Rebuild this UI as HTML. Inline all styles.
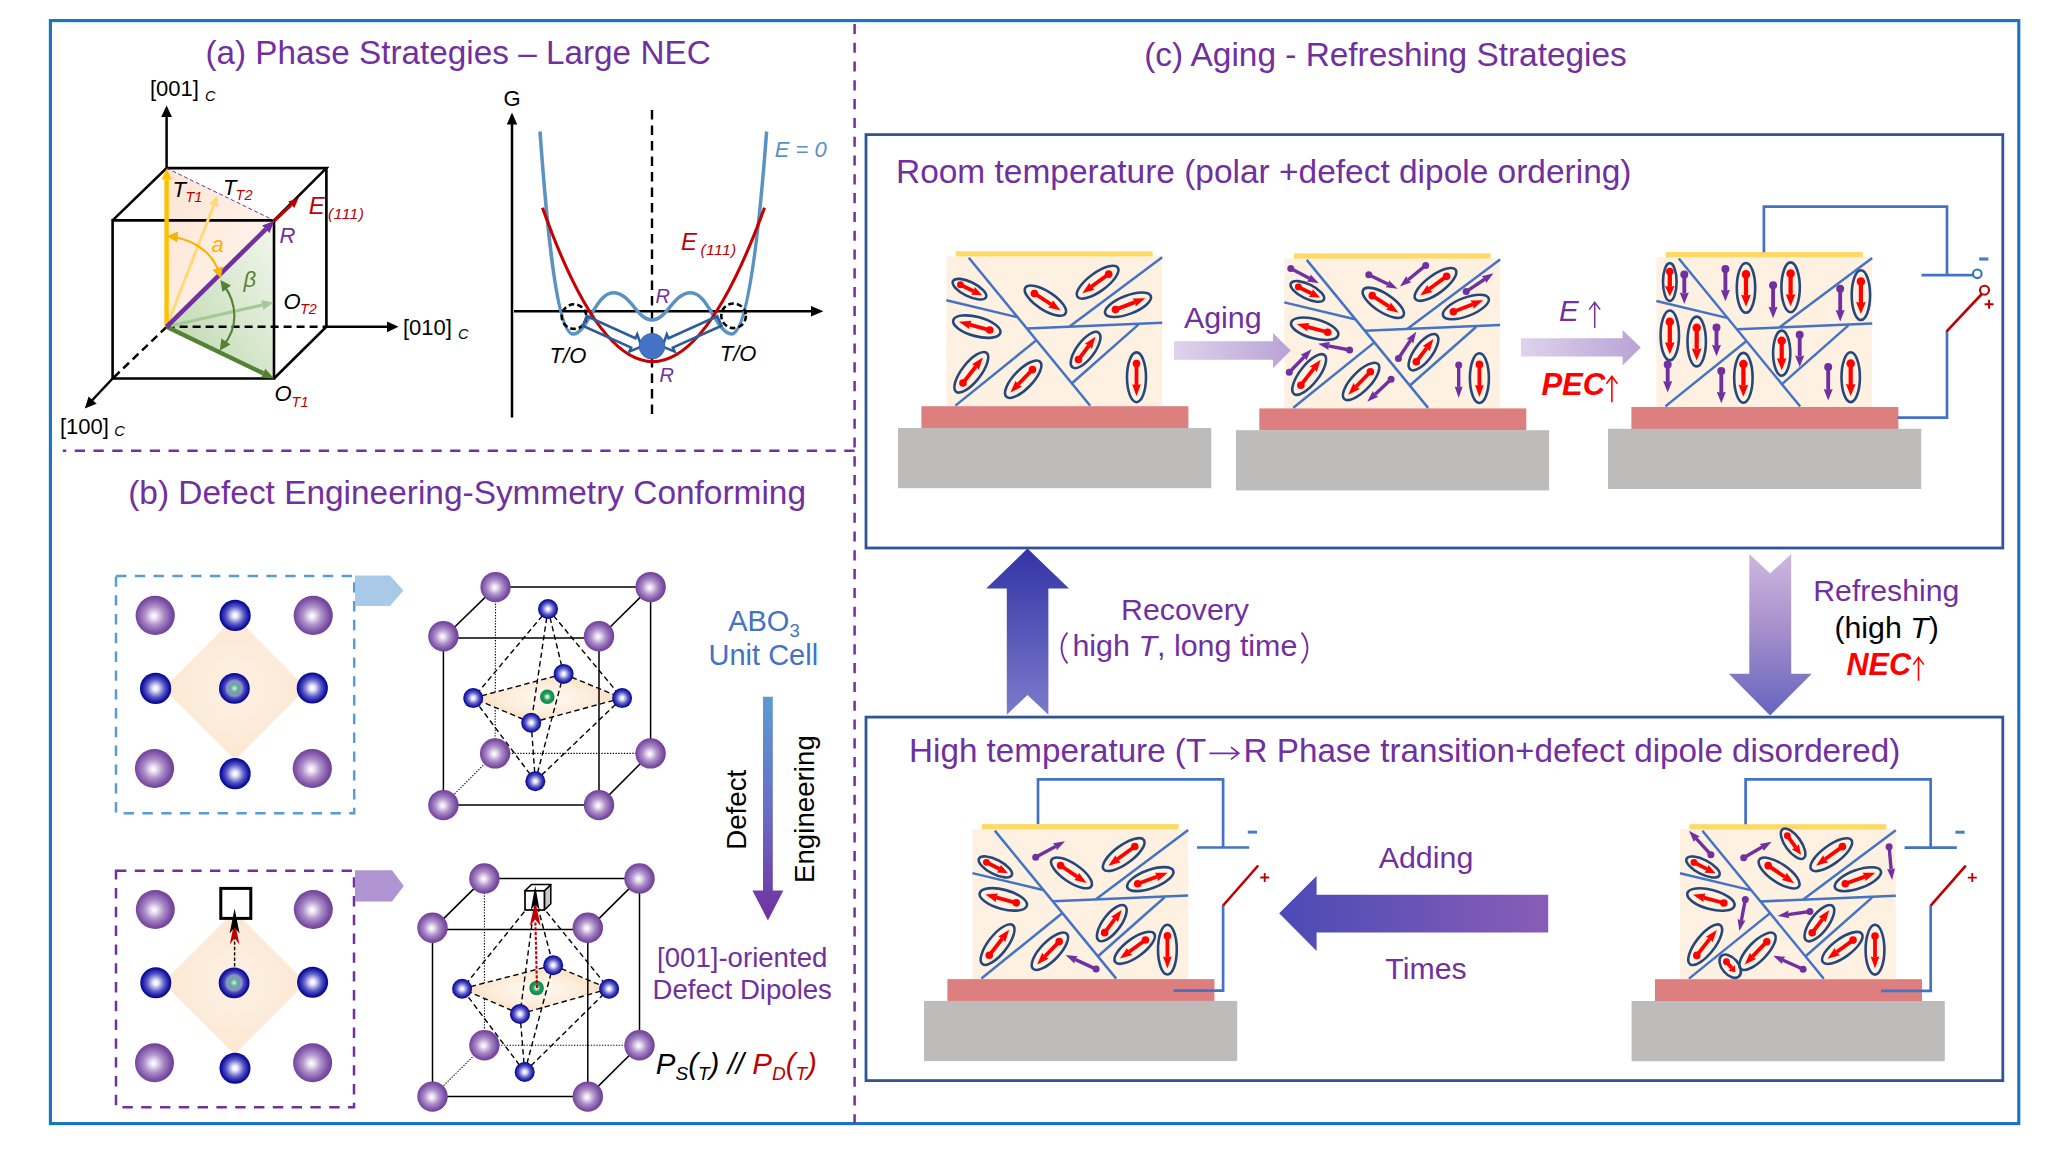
<!DOCTYPE html>
<html><head><meta charset="utf-8"><title>figure</title>
<style>html,body{margin:0;padding:0;background:#fff;}svg{display:block;}text{font-family:"Liberation Sans", sans-serif;}</style>
</head><body>
<svg width="2048" height="1155" viewBox="0 0 2048 1155" font-family='"Liberation Sans", sans-serif'>
<rect x="0" y="0" width="2048" height="1155" fill="#fff"/>
<defs>
<radialGradient id="gPur" cx="48%" cy="50%" r="52%" fx="47%" fy="52%">
<stop offset="0" stop-color="#ffffff"/><stop offset="0.12" stop-color="#f1eaf6"/><stop offset="0.48" stop-color="#ab8dc7"/><stop offset="0.82" stop-color="#7e52a6"/><stop offset="1" stop-color="#6c3c95"/></radialGradient>
<radialGradient id="gBlu" cx="50%" cy="50%" r="52%" fx="50%" fy="50%">
<stop offset="0" stop-color="#ffffff"/><stop offset="0.15" stop-color="#eeeefa"/><stop offset="0.55" stop-color="#5a5ac8"/><stop offset="0.85" stop-color="#1414a0"/><stop offset="1" stop-color="#000090"/></radialGradient>
<radialGradient id="gCen" cx="50%" cy="50%" r="52%">
<stop offset="0" stop-color="#e2f4ed"/><stop offset="0.2" stop-color="#6fb39d"/><stop offset="0.34" stop-color="#6d9fa8"/><stop offset="0.47" stop-color="#9094ca"/><stop offset="0.62" stop-color="#4848be"/><stop offset="0.85" stop-color="#1515a0"/><stop offset="1" stop-color="#00008f"/></radialGradient>
<radialGradient id="gGrn" cx="50%" cy="50%" r="50%">
<stop offset="0" stop-color="#f4fbf7"/><stop offset="0.25" stop-color="#a8d9c0"/><stop offset="0.5" stop-color="#239b5d"/><stop offset="1" stop-color="#0f884a"/></radialGradient>
<radialGradient id="gPl" cx="50%" cy="50%" r="55%">
<stop offset="0" stop-color="#fffaf4"/><stop offset="0.5" stop-color="#fdeedd"/><stop offset="1" stop-color="#fbdab5"/></radialGradient>
<radialGradient id="gDia" cx="50%" cy="50%" r="60%">
<stop offset="0" stop-color="#fdf1e4"/><stop offset="1" stop-color="#fce6cf"/></radialGradient>
<linearGradient id="gAging" x1="0" y1="0" x2="1" y2="0"><stop offset="0" stop-color="#dfd3ec"/><stop offset="1" stop-color="#b9a2d6"/></linearGradient>
<linearGradient id="gUp" x1="0" y1="0" x2="0" y2="1"><stop offset="0" stop-color="#3333a6"/><stop offset="1" stop-color="#7b7bcb"/></linearGradient>
<linearGradient id="gDown" x1="0" y1="0" x2="0" y2="1"><stop offset="0" stop-color="#cdb8df"/><stop offset="0.45" stop-color="#a890cc"/><stop offset="1" stop-color="#6464be"/></linearGradient>
<linearGradient id="gLeft" x1="0" y1="0" x2="1" y2="0"><stop offset="0" stop-color="#4a4bb5"/><stop offset="1" stop-color="#8a5cb8"/></linearGradient>
<linearGradient id="gDE" x1="0" y1="0" x2="0" y2="1"><stop offset="0" stop-color="#5b9bd5"/><stop offset="0.55" stop-color="#6a6ac0"/><stop offset="1" stop-color="#7030a0"/></linearGradient>
<linearGradient id="gTriO" x1="0" y1="0" x2="1" y2="0.6"><stop offset="0" stop-color="#fde6d5"/><stop offset="1" stop-color="#fef4ec"/></linearGradient>
<linearGradient id="gTriG" x1="0" y1="1" x2="1" y2="0"><stop offset="0" stop-color="#b9d6a8"/><stop offset="0.55" stop-color="#d9e8cf"/><stop offset="1" stop-color="#f2f7ee"/></linearGradient>
</defs>
<rect x="50.4" y="20.6" width="1968.4" height="1103" fill="none" stroke="#1874BF" stroke-width="3.1"/>
<line x1="854.6" y1="23.9" x2="854.6" y2="1123" stroke="#7030A0" stroke-width="2.5" stroke-dasharray="10.1 8.7"/>
<line x1="854.6" y1="450.8" x2="62.8" y2="450.8" stroke="#7030A0" stroke-width="2.5" stroke-dasharray="10.3 8.47"/>
<rect x="866" y="134.6" width="1136.8" height="413.4" fill="none" stroke="#2F5597" stroke-width="2.8"/>
<rect x="866" y="717.1" width="1136.8" height="363.5" fill="none" stroke="#2F5597" stroke-width="2.8"/>
<text x="205.4" y="64" font-size="33.4" fill="#7030A0" text-anchor="start" textLength="505.3" lengthAdjust="spacingAndGlyphs">(a) Phase Strategies – Large NEC</text>
<text x="128.2" y="503.7" font-size="33.4" fill="#7030A0" text-anchor="start" textLength="677.8" lengthAdjust="spacingAndGlyphs">(b) Defect Engineering-Symmetry Conforming</text>
<text x="1144.2" y="66.3" font-size="33.4" fill="#7030A0" text-anchor="start" textLength="482.6" lengthAdjust="spacingAndGlyphs">(c) Aging - Refreshing Strategies</text>
<text x="896" y="183" font-size="33.4" fill="#7030A0" text-anchor="start" textLength="735.5" lengthAdjust="spacingAndGlyphs">Room temperature (polar +defect dipole ordering)</text>
<text x="909.1" y="761.8" font-size="33.4" fill="#7030A0" text-anchor="start" textLength="297.1" lengthAdjust="spacingAndGlyphs">High temperature (T</text>
<text x="1243.5" y="761.8" font-size="33.4" fill="#7030A0" text-anchor="start" textLength="656.7" lengthAdjust="spacingAndGlyphs">R Phase transition+defect dipole disordered)</text>
<path d="M1209.4,753.3H1238.4M1231,747.2L1238.8,753.3L1231,759.4" fill="none" stroke="#7030A0" stroke-width="1.7"/>
<polygon points="166.6,326.8 166.6,168.1 274,220.4" fill="url(#gTriO)"/>
<polygon points="166.6,326.8 274,220.4 274,378.5" fill="url(#gTriG)"/>
<line x1="166.6" y1="326.8" x2="326.4" y2="326.8" stroke="#000" stroke-width="2.5" stroke-dasharray="8 5"/>
<line x1="166.6" y1="326.8" x2="112.6" y2="378.5" stroke="#000" stroke-width="2.5" stroke-dasharray="8 5"/>
<g fill="none" stroke="#000" stroke-width="2.6" stroke-linejoin="miter">
<polygon points="112.6,220.4 274,220.4 274,378.5 112.6,378.5"/>
<polyline points="112.6,220.4 166.6,168.1 326.4,168.1 274,220.4"/>
<polyline points="326.4,168.1 326.4,326.8 274,378.5"/>
</g>
<line x1="166.6" y1="168" x2="166.6" y2="114" stroke="#000" stroke-width="2.5"/>
<polygon points="166.6,105.6 172,117 161.2,117" fill="#000"/>
<line x1="326.4" y1="326.8" x2="388" y2="326.8" stroke="#000" stroke-width="2.5"/>
<polygon points="398.5,326.8 387,321.4 387,332.2" fill="#000"/>
<line x1="112.6" y1="378.5" x2="92" y2="400.5" stroke="#000" stroke-width="2.5"/>
<polygon points="84.8,408.4 88.6,396.4 96.6,403.8" fill="#000"/>
<line x1="166.6" y1="168.1" x2="274" y2="220.4" stroke="#7030A0" stroke-width="1" stroke-dasharray="4 2.5"/>
<g fill="#FFD978" stroke="none"><polygon points="168,327.34 215.02,206 212.23,204.91 165.2,326.26"/><polygon points="217.6,195.2 218.01,207.16 213.63,205.46 209.24,203.76"/></g>
<g fill="#A6C796" stroke="none"><polygon points="166.96,328.36 262.74,306.52 262.03,303.4 166.24,325.24"/><polygon points="273.6,302.4 263.46,309.64 262.39,304.96 261.32,300.28"/></g>
<g fill="#FFC000" stroke="none"><polygon points="168.8,326.8 168.8,179.4 164.4,179.4 164.4,326.8"/><polygon points="166.6,168.4 171.6,179.4 166.6,179.4 161.6,179.4"/></g>
<g fill="#548235" stroke="none"><polygon points="165.65,328.78 262.23,375.28 264.14,371.31 167.55,324.82"/><polygon points="274,378.5 261.02,377.8 263.19,373.3 265.36,368.79"/></g>
<g fill="#C00000" stroke="none"><polygon points="275.09,222.17 292.39,206 290.2,203.66 272.91,219.83"/><polygon points="298.6,198 294.37,208.12 291.3,204.83 288.22,201.54"/></g>
<g fill="#7030A0" stroke="none"><polygon points="168.21,328.44 267.46,230.85 264.23,227.57 164.99,325.16"/><polygon points="274.4,220.8 269.52,232.96 265.84,229.21 262.16,225.47"/></g>
<path d="M171.5,236.8 C196,240 213,254 218.6,271.8" fill="none" stroke="#F4B400" stroke-width="2.1"/>
<polygon points="166.8,236.2 178,231.4 177.4,242.2" fill="#F4B400"/>
<polygon points="221,278.2 212.4,270 222.8,266.6" fill="#F4B400"/>
<path d="M223.6,285 C238,304 238,328 223.4,345.6" fill="none" stroke="#548235" stroke-width="2.1"/>
<polygon points="220.4,280 231,285.6 222.4,292" fill="#548235"/>
<polygon points="219.8,350.6 221.4,338.6 230.6,344.6" fill="#548235"/>
<text x="149.9" y="96.4" font-size="22" fill="#000" text-anchor="start" >[001]</text>
<text x="204.9" y="101.3" font-size="14.5" fill="#000" text-anchor="start" font-style="italic" >C</text>
<text x="403" y="334.6" font-size="22" fill="#000" text-anchor="start" >[010]</text>
<text x="458" y="339.2" font-size="14.5" fill="#000" text-anchor="start" font-style="italic" >C</text>
<text x="59.9" y="434.2" font-size="22" fill="#000" text-anchor="start" >[100]</text>
<text x="114.3" y="436.4" font-size="14.5" fill="#000" text-anchor="start" font-style="italic" >C</text>
<text x="172.6" y="197" font-size="22" fill="#000" text-anchor="start" font-style="italic" >T</text>
<text x="185.4" y="201.8" font-size="14.5" fill="#C00000" text-anchor="start" font-style="italic" >T1</text>
<text x="223" y="195.4" font-size="22" fill="#000" text-anchor="start" font-style="italic" >T</text>
<text x="235.6" y="200.4" font-size="14.5" fill="#C00000" text-anchor="start" font-style="italic" >T2</text>
<text x="308.8" y="214" font-size="24" fill="#C00000" text-anchor="start" font-style="italic" >E</text>
<text x="328" y="219" font-size="15.5" fill="#C00000" text-anchor="start" font-style="italic" letter-spacing="0.5">(111)</text>
<text x="279.4" y="242.6" font-size="22" fill="#7030A0" text-anchor="start" font-style="italic" >R</text>
<text x="211.4" y="252.4" font-size="22" fill="#FFB000" text-anchor="start" font-style="italic" >a</text>
<text x="243.6" y="286.8" font-size="22" fill="#548235" text-anchor="start" font-style="italic" >β</text>
<text x="283.6" y="308.6" font-size="22" fill="#000" text-anchor="start" font-style="italic" >O</text>
<text x="300" y="313.8" font-size="14.5" fill="#C00000" text-anchor="start" font-style="italic" >T2</text>
<text x="274.6" y="401.4" font-size="22" fill="#000" text-anchor="start" font-style="italic" >O</text>
<text x="291.6" y="406.6" font-size="14.5" fill="#C00000" text-anchor="start" font-style="italic" >T1</text>
<line x1="512" y1="417.6" x2="512" y2="122" stroke="#000" stroke-width="2.5"/>
<polygon points="512,112.6 517.2,124.6 506.8,124.6" fill="#000"/>
<line x1="514" y1="311.3" x2="812" y2="311.3" stroke="#000" stroke-width="2.5"/>
<polygon points="823.4,311.3 811,306 811,316.6" fill="#000"/>
<line x1="652" y1="110" x2="652" y2="418" stroke="#000" stroke-width="2.4" stroke-dasharray="9.5 6"/>
<text x="512" y="106" font-size="22" fill="#000" text-anchor="middle" >G</text>
<path d="M540,131.5 C546,215 556,334 573,334 C587,334 596,292.7 613,292.7 C631,292.7 637,320 652,320 C667,320 673,292.7 691,292.7 C708,292.7 717,334 731.6,334 C749,334 760.4,215 766.6,131.5" fill="none" stroke="#5B92C4" stroke-width="3.5"/>
<path d="M542.5,207.8 Q652,515.4 764.5,207.8" fill="none" stroke="#C80000" stroke-width="3.1"/>
<circle cx="574" cy="316.6" r="12.3" fill="none" stroke="#000" stroke-width="2.6" stroke-dasharray="5.6 3.1"/>
<circle cx="733.6" cy="315.8" r="12.3" fill="none" stroke="#000" stroke-width="2.6" stroke-dasharray="5.6 3.1"/>
<polygon points="582.66,325.74 631.16,347.64 629.39,351.55 641.5,346.6 637.21,334.24 635.44,338.16 586.94,316.26" fill="none" stroke="#2F5C9C" stroke-width="2.6" stroke-linejoin="miter"/>
<polygon points="717.27,316.26 668.57,338.17 666.81,334.24 662.5,346.6 674.61,351.57 672.84,347.65 721.53,325.74" fill="none" stroke="#2F5C9C" stroke-width="2.6" stroke-linejoin="miter"/>
<circle cx="652" cy="346.2" r="12.8" fill="#4472C4" stroke="#3A66B4" stroke-width="1"/>
<text x="774.8" y="157.4" font-size="22" fill="#5B92C4" text-anchor="start" font-style="italic" >E = 0</text>
<text x="681" y="249.6" font-size="24" fill="#C00000" text-anchor="start" font-style="italic" >E</text>
<text x="700.4" y="255.4" font-size="15.5" fill="#C00000" text-anchor="start" font-style="italic" letter-spacing="0.5">(111)</text>
<text x="655.4" y="303.4" font-size="20" fill="#7030A0" text-anchor="start" font-style="italic" >R</text>
<text x="659.6" y="381.6" font-size="20" fill="#7030A0" text-anchor="start" font-style="italic" >R</text>
<text x="549.6" y="362.6" font-size="22" fill="#000" text-anchor="start" font-style="italic" >T/O</text>
<text x="719.8" y="361.2" font-size="22" fill="#000" text-anchor="start" font-style="italic" >T/O</text>
<rect x="116" y="576" width="238.2" height="237.2" fill="none" stroke="#5B9BD5" stroke-width="2.5" stroke-dasharray="10.4 8.4"/>
<polygon points="355,575.4 390,575.4 403.4,590.6 390,606 355,606" fill="#A9C9E8"/>
<polygon points="235,616.8 306.5,688.4 235,759.9 163.5,688.4" fill="url(#gDia)"/>
<circle cx="155.2" cy="615.4" r="19.6" fill="url(#gPur)"/>
<circle cx="313.2" cy="615.4" r="19.6" fill="url(#gPur)"/>
<circle cx="154.5" cy="768.5" r="19.6" fill="url(#gPur)"/>
<circle cx="312.3" cy="768.5" r="19.6" fill="url(#gPur)"/>
<circle cx="235.1" cy="615.4" r="15.6" fill="url(#gBlu)"/>
<circle cx="155.6" cy="688.4" r="15.6" fill="url(#gBlu)"/>
<circle cx="312.3" cy="688" r="15.6" fill="url(#gBlu)"/>
<circle cx="235.1" cy="773.7" r="15.6" fill="url(#gBlu)"/>
<circle cx="234.4" cy="688.4" r="15.4" fill="url(#gCen)"/>
<rect x="116" y="870.8" width="238" height="236.4" fill="none" stroke="#7030A0" stroke-width="2.5" stroke-dasharray="10.4 8.4"/>
<polygon points="355,870.2 392,870.2 403.8,886 392,901.4 355,901.4" fill="#B195D2"/>
<polygon points="234.5,911.3 306,982.8 234.5,1054.3 163,982.8" fill="url(#gDia)"/>
<circle cx="155.3" cy="909.4" r="19.5" fill="url(#gPur)"/>
<circle cx="313.3" cy="909.4" r="19.5" fill="url(#gPur)"/>
<circle cx="154.5" cy="1062.8" r="19.5" fill="url(#gPur)"/>
<circle cx="312.6" cy="1062.8" r="19.5" fill="url(#gPur)"/>
<circle cx="155.8" cy="982.8" r="15.5" fill="url(#gBlu)"/>
<circle cx="312.6" cy="982.2" r="15.5" fill="url(#gBlu)"/>
<circle cx="235" cy="1068.2" r="15.5" fill="url(#gBlu)"/>
<circle cx="234.1" cy="982.8" r="15.4" fill="url(#gCen)"/>
<rect x="220.8" y="888.4" width="30" height="30" fill="#fff" stroke="#000" stroke-width="3"/>
<line x1="234.6" y1="966.4" x2="234.6" y2="930" stroke="#000" stroke-width="1.4" stroke-dasharray="3.4 2"/>
<polygon points="234.6,921 229.8,944.6 234.6,938 239.4,944.6" fill="#C00000"/>
<polygon points="234.6,908.6 229.6,933.6 234.6,927.6 239.6,933.6" fill="#000"/>
<g stroke="#000" stroke-width="1.1" stroke-dasharray="1.3 1.5">
<line x1="495.1" y1="753.4" x2="495.6" y2="587.1" />
<line x1="495.1" y1="753.4" x2="650.6" y2="753.4" />
<line x1="495.1" y1="753.4" x2="443.4" y2="805.1" />
</g>
<polygon points="473.2,698.1 563.6,673.9 622.1,698.1 531.2,722.7" fill="url(#gPl)"/>
<g stroke="#000" stroke-width="1.4" stroke-dasharray="5.4 3.4">
<line x1="548" y1="609" x2="473.2" y2="698.1" />
<line x1="535.3" y1="781.2" x2="473.2" y2="698.1" />
<line x1="548" y1="609" x2="563.6" y2="673.9" />
<line x1="535.3" y1="781.2" x2="563.6" y2="673.9" />
<line x1="548" y1="609" x2="622.1" y2="698.1" />
<line x1="535.3" y1="781.2" x2="622.1" y2="698.1" />
<line x1="548" y1="609" x2="531.2" y2="722.7" />
<line x1="535.3" y1="781.2" x2="531.2" y2="722.7" />
<line x1="473.2" y1="698.1" x2="563.6" y2="673.9" />
<line x1="563.6" y1="673.9" x2="622.1" y2="698.1" />
<line x1="622.1" y1="698.1" x2="531.2" y2="722.7" />
<line x1="531.2" y1="722.7" x2="473.2" y2="698.1" />
</g>
<g stroke="#000" stroke-width="1.5">
<line x1="495.6" y1="587.1" x2="650.6" y2="587.1" />
<line x1="650.6" y1="587.1" x2="650.6" y2="753.4" />
<line x1="443.4" y1="638" x2="599" y2="638" />
<line x1="599" y1="638" x2="599" y2="805.1" />
<line x1="599" y1="805.1" x2="443.4" y2="805.1" />
<line x1="443.4" y1="805.1" x2="443.4" y2="638" />
<line x1="443.4" y1="638" x2="495.6" y2="587.1" />
<line x1="599" y1="638" x2="650.6" y2="587.1" />
<line x1="599" y1="805.1" x2="650.6" y2="753.4" />
</g>
<circle cx="495.6" cy="587.1" r="15.2" fill="url(#gPur)"/>
<circle cx="650.6" cy="587.1" r="15.2" fill="url(#gPur)"/>
<circle cx="495.1" cy="753.4" r="15.2" fill="url(#gPur)"/>
<circle cx="650.6" cy="753.4" r="15.2" fill="url(#gPur)"/>
<circle cx="563.6" cy="673.9" r="10" fill="url(#gBlu)"/>
<circle cx="547.3" cy="696.8" r="7.3" fill="url(#gGrn)"/>
<circle cx="548" cy="609" r="10" fill="url(#gBlu)"/>
<circle cx="473.2" cy="698.1" r="10" fill="url(#gBlu)"/>
<circle cx="622.1" cy="698.1" r="10" fill="url(#gBlu)"/>
<circle cx="535.3" cy="781.2" r="10" fill="url(#gBlu)"/>
<circle cx="531.2" cy="722.7" r="10" fill="url(#gBlu)"/>
<circle cx="443.4" cy="636.2" r="15.2" fill="url(#gPur)"/>
<circle cx="599" cy="636.2" r="15.2" fill="url(#gPur)"/>
<circle cx="443.4" cy="805.1" r="15.2" fill="url(#gPur)"/>
<circle cx="599" cy="805.1" r="15.2" fill="url(#gPur)"/>
<g stroke="#000" stroke-width="1.1" stroke-dasharray="1.3 1.5">
<line x1="484.4" y1="1045.2" x2="484.4" y2="878.4" />
<line x1="484.4" y1="1045.2" x2="639.5" y2="1045.2" />
<line x1="484.4" y1="1045.2" x2="432.5" y2="1096.6" />
</g>
<polygon points="462.1,988.8 553.2,965.2 609.1,988.8 520,1014" fill="url(#gPl)"/>
<g stroke="#000" stroke-width="1.4" stroke-dasharray="5.4 3.4">
<line x1="535.4" y1="898" x2="462.1" y2="988.8" />
<line x1="524.7" y1="1072" x2="462.1" y2="988.8" />
<line x1="535.4" y1="898" x2="553.2" y2="965.2" />
<line x1="524.7" y1="1072" x2="553.2" y2="965.2" />
<line x1="535.4" y1="898" x2="609.1" y2="988.8" />
<line x1="524.7" y1="1072" x2="609.1" y2="988.8" />
<line x1="535.4" y1="898" x2="520" y2="1014" />
<line x1="524.7" y1="1072" x2="520" y2="1014" />
<line x1="462.1" y1="988.8" x2="553.2" y2="965.2" />
<line x1="553.2" y1="965.2" x2="609.1" y2="988.8" />
<line x1="609.1" y1="988.8" x2="520" y2="1014" />
<line x1="520" y1="1014" x2="462.1" y2="988.8" />
</g>
<g stroke="#000" stroke-width="1.5">
<line x1="484.4" y1="878.4" x2="639.5" y2="878.4" />
<line x1="639.5" y1="878.4" x2="639.5" y2="1045.2" />
<line x1="432.5" y1="929.6" x2="587.8" y2="929.6" />
<line x1="587.8" y1="929.6" x2="587.8" y2="1096.6" />
<line x1="587.8" y1="1096.6" x2="432.5" y2="1096.6" />
<line x1="432.5" y1="1096.6" x2="432.5" y2="929.6" />
<line x1="432.5" y1="929.6" x2="484.4" y2="878.4" />
<line x1="587.8" y1="929.6" x2="639.5" y2="878.4" />
<line x1="587.8" y1="1096.6" x2="639.5" y2="1045.2" />
</g>
<circle cx="484.4" cy="878.4" r="15.2" fill="url(#gPur)"/>
<circle cx="639.5" cy="878.4" r="15.2" fill="url(#gPur)"/>
<circle cx="484.4" cy="1045.2" r="15.2" fill="url(#gPur)"/>
<circle cx="639.5" cy="1045.2" r="15.2" fill="url(#gPur)"/>
<circle cx="553.2" cy="965.2" r="10" fill="url(#gBlu)"/>
<circle cx="536.6" cy="988" r="7.3" fill="url(#gGrn)"/>
<circle cx="462.1" cy="988.8" r="10" fill="url(#gBlu)"/>
<circle cx="609.1" cy="988.8" r="10" fill="url(#gBlu)"/>
<circle cx="524.7" cy="1072" r="10" fill="url(#gBlu)"/>
<circle cx="520" cy="1014" r="10" fill="url(#gBlu)"/>
<circle cx="432.5" cy="927.8" r="15.2" fill="url(#gPur)"/>
<circle cx="587.8" cy="927.8" r="15.2" fill="url(#gPur)"/>
<circle cx="432.5" cy="1096.6" r="15.2" fill="url(#gPur)"/>
<circle cx="587.8" cy="1096.6" r="15.2" fill="url(#gPur)"/>
<polygon points="544.4,890.8 550.8,884.6 550.8,903.8 544.4,910" fill="#c9c9c9" stroke="#000" stroke-width="1.5" stroke-linejoin="round"/>
<polygon points="525,890.8 531.4,884.6 550.8,884.6 544.4,890.8" fill="#fff" stroke="#000" stroke-width="1.5" stroke-linejoin="round"/>
<rect x="525" y="890.8" width="19.4" height="19.2" fill="#fff" stroke="#000" stroke-width="1.7"/>
<line x1="537" y1="988" x2="535.4" y2="922" stroke="#C00000" stroke-width="2.1" stroke-dasharray="3.2 1.6"/>
<polygon points="535.2,900.4 529.8,926 535.2,919.6 540.6,926" fill="#C00000"/>
<polygon points="535.2,885.8 530.8,910 535.2,904.4 539.6,910" fill="#000"/>
<text x="728.2" y="631" font-size="29" fill="#4472C4">ABO<tspan font-size="18.5" dy="5.5">3</tspan></text>
<text x="763.3" y="664.8" font-size="29" fill="#4472C4" text-anchor="middle" >Unit Cell</text>
<polygon points="763,696.7 772.8,696.7 772.8,890.4 783.4,890.4 767.9,920.4 752.4,890.4 763,890.4" fill="url(#gDE)"/>
<text transform="translate(746.4,849.8) rotate(-90)" font-size="27.7" fill="#000">Defect</text>
<text transform="translate(813.6,883) rotate(-90)" font-size="27.7" fill="#000">Engineering</text>
<text x="742.2" y="966.6" font-size="27.6" fill="#7030A0" text-anchor="middle" >[001]-oriented</text>
<text x="742.2" y="999" font-size="27.6" fill="#7030A0" text-anchor="middle" >Defect Dipoles</text>
<text x="655.8" y="1073.8" font-size="29.5" font-style="italic" fill="#000">P<tspan font-size="19" dy="6">S</tspan><tspan font-size="29.5" dy="-6">(</tspan><tspan font-size="19" dy="6">T</tspan><tspan font-size="29.5" dy="-6">) // </tspan><tspan fill="#C00000">P</tspan><tspan font-size="19" dy="6" fill="#C00000">D</tspan><tspan font-size="29.5" dy="-6" fill="#C00000">(</tspan><tspan font-size="19" dy="6" fill="#C00000">T</tspan><tspan font-size="29.5" dy="-6" fill="#C00000">)</tspan></text>
<rect x="946.4" y="256.2" width="215.8" height="150.2" fill="#FEF1E2"/>
<rect x="955.9" y="251.2" width="196.8" height="5.2" fill="#FFD966"/>
<rect x="921.4" y="406.2" width="267" height="22" fill="#DE7F7F"/>
<rect x="898" y="428" width="313.2" height="60.2" fill="#BEBCBB"/>
<g stroke="#4472C4" stroke-width="2.5" fill="none">
<line x1="968.8" y1="257.7" x2="1090.2" y2="405.7"/>
<line x1="946.4" y1="300.2" x2="1017" y2="317.1"/>
<line x1="1162.2" y1="257.2" x2="1069.6" y2="326.5"/>
<line x1="1027" y1="328.45" x2="1162.2" y2="322.7"/>
<line x1="955.4" y1="405.6" x2="1036.2" y2="340.4"/>
<line x1="1138.4" y1="324.6" x2="1072" y2="383.3"/>
</g>
<ellipse cx="969.5" cy="289.2" rx="18.4" ry="7.2" transform="rotate(26 969.5 289.2)" fill="none" stroke="#26477B" stroke-width="2.6"/>
<g fill="#FF0000" stroke="none"><polygon points="959.57,286.47 972.86,292.95 974.53,289.54 961.24,283.06"/><polygon points="982.07,295.33 971.06,294.8 973.7,291.25 974.88,286.98"/><circle cx="960.4" cy="284.76" r="3.4"/></g>
<ellipse cx="1045.4" cy="300.6" rx="23.9" ry="9.2" transform="rotate(33 1045.4 300.6)" fill="none" stroke="#26477B" stroke-width="2.6"/>
<g fill="#FF0000" stroke="none"><polygon points="1033.34,295.03 1050.34,306.07 1052.41,302.89 1035.41,291.85"/><polygon points="1060.63,310.49 1048.2,307.61 1051.37,304.48 1052.94,300.31"/><circle cx="1034.38" cy="293.44" r="3.8"/></g>
<ellipse cx="1097.6" cy="282.2" rx="24.9" ry="9.2" transform="rotate(-36 1097.6 282.2)" fill="none" stroke="#26477B" stroke-width="2.6"/>
<g fill="#FF0000" stroke="none"><polygon points="1107.56,272.61 1090.1,285.3 1092.34,288.37 1109.8,275.69"/><polygon points="1082.29,293.32 1089.44,282.75 1091.22,286.83 1094.56,289.79"/><circle cx="1108.68" cy="274.15" r="3.8"/></g>
<ellipse cx="1128" cy="304.8" rx="24.4" ry="9.2" transform="rotate(-21 1128 304.8)" fill="none" stroke="#26477B" stroke-width="2.6"/>
<g fill="#FF0000" stroke="none"><polygon points="1116.15,311.38 1135.69,303.88 1134.32,300.34 1114.79,307.84"/><polygon points="1145.31,298.15 1135.67,306.52 1135.01,302.11 1132.55,298.39"/><circle cx="1115.47" cy="309.61" r="3.8"/></g>
<ellipse cx="976.8" cy="326.6" rx="24.4" ry="9.6" transform="rotate(15 976.8 326.6)" fill="none" stroke="#26477B" stroke-width="2.6"/>
<g fill="#FF0000" stroke="none"><polygon points="990.25,328.24 970.04,322.82 969.06,326.49 989.27,331.91"/><polygon points="958.89,321.8 971.6,320.7 969.55,324.66 969.35,329.11"/><circle cx="989.76" cy="330.07" r="3.8"/></g>
<ellipse cx="1085.6" cy="350" rx="21.7" ry="8.8" transform="rotate(-53 1085.6 350)" fill="none" stroke="#26477B" stroke-width="2.6"/>
<g fill="#FF0000" stroke="none"><polygon points="1079.93,360.68 1090.43,346.74 1087.4,344.46 1076.9,358.39"/><polygon points="1095.53,336.83 1091.81,348.98 1088.91,345.6 1084.87,343.75"/><circle cx="1078.42" cy="359.53" r="3.8"/></g>
<ellipse cx="971.3" cy="372.3" rx="24.7" ry="9.4" transform="rotate(-52 971.3 372.3)" fill="none" stroke="#26477B" stroke-width="2.6"/>
<g fill="#FF0000" stroke="none"><polygon points="964.43,384.17 977.56,367.38 974.56,365.04 961.44,381.84"/><polygon points="982.86,357.51 978.9,369.64 976.06,366.21 972.04,364.29"/><circle cx="962.94" cy="383.01" r="3.8"/></g>
<ellipse cx="1023.2" cy="379.2" rx="24.3" ry="9.4" transform="rotate(-46 1023.2 379.2)" fill="none" stroke="#26477B" stroke-width="2.6"/>
<g fill="#FF0000" stroke="none"><polygon points="1031.12,368.27 1016.67,383.22 1019.41,385.86 1033.85,370.91"/><polygon points="1010.37,392.48 1015.58,380.83 1018.04,384.54 1021.84,386.87"/><circle cx="1032.48" cy="369.59" r="3.8"/></g>
<ellipse cx="1136.5" cy="377.3" rx="24.9" ry="9.5" transform="rotate(90 1136.5 377.3)" fill="none" stroke="#26477B" stroke-width="2.6"/>
<g fill="#FF0000" stroke="none"><polygon points="1134.6,363.6 1134.6,385.18 1138.4,385.18 1138.4,363.6"/><polygon points="1136.5,396.22 1132.15,384.22 1136.5,385.18 1140.85,384.22"/><circle cx="1136.5" cy="363.6" r="3.8"/></g>
<rect x="1284.3" y="258.4" width="215.8" height="150.2" fill="#FEF1E2"/>
<rect x="1293.8" y="253.4" width="196.8" height="5.2" fill="#FFD966"/>
<rect x="1259.3" y="408.4" width="267" height="22" fill="#DE7F7F"/>
<rect x="1235.9" y="430.2" width="313.2" height="60.2" fill="#BEBCBB"/>
<g stroke="#4472C4" stroke-width="2.5" fill="none">
<line x1="1306.7" y1="259.9" x2="1428.1" y2="407.9"/>
<line x1="1284.3" y1="302.4" x2="1354.9" y2="319.3"/>
<line x1="1500.1" y1="259.4" x2="1407.5" y2="328.7"/>
<line x1="1364.9" y1="330.65" x2="1500.1" y2="324.9"/>
<line x1="1293.3" y1="407.8" x2="1374.1" y2="342.6"/>
<line x1="1476.3" y1="326.8" x2="1409.9" y2="385.5"/>
</g>
<ellipse cx="1307.4" cy="291.4" rx="18.4" ry="7.2" transform="rotate(26 1307.4 291.4)" fill="none" stroke="#26477B" stroke-width="2.6"/>
<g fill="#FF0000" stroke="none"><polygon points="1297.47,288.67 1310.76,295.15 1312.43,291.74 1299.14,285.26"/><polygon points="1319.97,297.53 1308.96,297 1311.6,293.45 1312.78,289.18"/><circle cx="1298.3" cy="286.96" r="3.4"/></g>
<ellipse cx="1383.3" cy="302.8" rx="23.9" ry="9.2" transform="rotate(33 1383.3 302.8)" fill="none" stroke="#26477B" stroke-width="2.6"/>
<g fill="#FF0000" stroke="none"><polygon points="1371.24,297.23 1388.24,308.27 1390.31,305.09 1373.31,294.05"/><polygon points="1398.53,312.69 1386.1,309.81 1389.27,306.68 1390.84,302.51"/><circle cx="1372.28" cy="295.64" r="3.8"/></g>
<ellipse cx="1435.5" cy="284.4" rx="24.9" ry="9.2" transform="rotate(-36 1435.5 284.4)" fill="none" stroke="#26477B" stroke-width="2.6"/>
<g fill="#FF0000" stroke="none"><polygon points="1445.46,274.81 1428,287.5 1430.24,290.57 1447.7,277.89"/><polygon points="1420.19,295.52 1427.34,284.95 1429.12,289.03 1432.46,291.99"/><circle cx="1446.58" cy="276.35" r="3.8"/></g>
<ellipse cx="1465.9" cy="307" rx="24.4" ry="9.2" transform="rotate(-21 1465.9 307)" fill="none" stroke="#26477B" stroke-width="2.6"/>
<g fill="#FF0000" stroke="none"><polygon points="1454.05,313.58 1473.59,306.08 1472.22,302.54 1452.69,310.04"/><polygon points="1483.21,300.35 1473.57,308.72 1472.91,304.31 1470.45,300.59"/><circle cx="1453.37" cy="311.81" r="3.8"/></g>
<ellipse cx="1314.7" cy="328.8" rx="24.4" ry="9.6" transform="rotate(15 1314.7 328.8)" fill="none" stroke="#26477B" stroke-width="2.6"/>
<g fill="#FF0000" stroke="none"><polygon points="1328.15,330.44 1307.94,325.02 1306.96,328.69 1327.17,334.11"/><polygon points="1296.79,324 1309.5,322.9 1307.45,326.86 1307.25,331.31"/><circle cx="1327.66" cy="332.27" r="3.8"/></g>
<ellipse cx="1423.5" cy="352.2" rx="21.7" ry="8.8" transform="rotate(-53 1423.5 352.2)" fill="none" stroke="#26477B" stroke-width="2.6"/>
<g fill="#FF0000" stroke="none"><polygon points="1417.83,362.88 1428.33,348.94 1425.3,346.66 1414.8,360.59"/><polygon points="1433.43,339.03 1429.71,351.18 1426.81,347.8 1422.77,345.95"/><circle cx="1416.32" cy="361.73" r="3.8"/></g>
<ellipse cx="1309.2" cy="374.5" rx="24.7" ry="9.4" transform="rotate(-52 1309.2 374.5)" fill="none" stroke="#26477B" stroke-width="2.6"/>
<g fill="#FF0000" stroke="none"><polygon points="1302.33,386.37 1315.46,369.58 1312.46,367.24 1299.34,384.04"/><polygon points="1320.76,359.71 1316.8,371.84 1313.96,368.41 1309.94,366.49"/><circle cx="1300.84" cy="385.21" r="3.8"/></g>
<ellipse cx="1361.1" cy="381.4" rx="24.3" ry="9.4" transform="rotate(-46 1361.1 381.4)" fill="none" stroke="#26477B" stroke-width="2.6"/>
<g fill="#FF0000" stroke="none"><polygon points="1369.02,370.47 1354.57,385.42 1357.31,388.06 1371.75,373.11"/><polygon points="1348.27,394.68 1353.48,383.03 1355.94,386.74 1359.74,389.07"/><circle cx="1370.38" cy="371.79" r="3.8"/></g>
<ellipse cx="1479.4" cy="378.1" rx="24.9" ry="9.5" transform="rotate(90 1479.4 378.1)" fill="none" stroke="#26477B" stroke-width="2.6"/>
<g fill="#FF0000" stroke="none"><polygon points="1477.5,364.4 1477.5,385.98 1481.3,385.98 1481.3,364.4"/><polygon points="1479.4,397.02 1475.05,385.02 1479.4,385.98 1483.75,385.02"/><circle cx="1479.4" cy="364.4" r="3.8"/></g>
<g fill="#7030A0" stroke="none"><polygon points="1290.01,270 1308.95,279.98 1310.53,276.97 1291.59,267"/><polygon points="1318.9,283.3 1306.86,281.48 1309.74,278.48 1310.59,274.4"/><circle cx="1290.8" cy="268.5" r="3.5"/></g>
<g fill="#7030A0" stroke="none"><polygon points="1368.06,276.33 1387.55,285.8 1389.03,282.75 1369.54,273.27"/><polygon points="1397.6,288.8 1385.51,287.37 1388.29,284.28 1389.01,280.17"/><circle cx="1368.8" cy="274.8" r="3.5"/></g>
<g fill="#7030A0" stroke="none"><polygon points="1424.62,264.08 1406.84,278.63 1408.99,281.26 1426.78,266.72"/><polygon points="1399.9,286.5 1406.27,276.12 1407.91,279.95 1411.33,282.32"/><circle cx="1425.7" cy="265.4" r="3.5"/></g>
<g fill="#7030A0" stroke="none"><polygon points="1467.15,293.01 1485.87,280.39 1483.97,277.57 1465.25,290.19"/><polygon points="1493.5,273.2 1486.2,282.94 1484.92,278.98 1481.73,276.31"/><circle cx="1466.2" cy="291.6" r="3.5"/></g>
<g fill="#7030A0" stroke="none"><polygon points="1349.93,348.33 1328.58,344.13 1327.93,347.47 1349.27,351.67"/><polygon points="1318.1,343.8 1330.16,342.1 1328.26,345.8 1328.61,349.95"/><circle cx="1349.6" cy="350" r="3.5"/></g>
<g fill="#7030A0" stroke="none"><polygon points="1399.81,359.44 1411.97,341.25 1409.14,339.36 1396.99,357.56"/><polygon points="1416.3,331.7 1413.24,343.48 1410.55,340.31 1406.59,339.04"/><circle cx="1398.4" cy="358.5" r="3.5"/></g>
<g fill="#7030A0" stroke="none"><polygon points="1290.52,373.39 1305.6,357.9 1303.16,355.53 1288.08,371.01"/><polygon points="1311.6,349.3 1306.44,360.33 1304.38,356.72 1300.71,354.75"/><circle cx="1289.3" cy="372.2" r="3.5"/></g>
<g fill="#7030A0" stroke="none"><polygon points="1389.93,377.96 1373.55,393.45 1375.89,395.92 1392.27,380.44"/><polygon points="1367.2,401.8 1372.81,390.99 1374.72,394.69 1378.3,396.81"/><circle cx="1391.1" cy="379.2" r="3.5"/></g>
<g fill="#7030A0" stroke="none"><polygon points="1457,364.9 1457,387.55 1460.4,387.55 1460.4,364.9"/><polygon points="1458.7,397.9 1454.7,386.4 1458.7,387.55 1462.7,386.4"/><circle cx="1458.7" cy="364.9" r="3.5"/></g>
<rect x="1656.4" y="257" width="215.8" height="150.2" fill="#FEF1E2"/>
<rect x="1665.9" y="252" width="196.8" height="5.2" fill="#FFD966"/>
<rect x="1631.4" y="407" width="267" height="22" fill="#DE7F7F"/>
<rect x="1608" y="428.8" width="313.2" height="60.2" fill="#BEBCBB"/>
<g stroke="#4472C4" stroke-width="2.5" fill="none">
<line x1="1678.8" y1="258.5" x2="1800.2" y2="406.5"/>
<line x1="1656.4" y1="301" x2="1727" y2="317.9"/>
<line x1="1872.2" y1="258" x2="1779.6" y2="327.3"/>
<line x1="1737" y1="329.25" x2="1872.2" y2="323.5"/>
<line x1="1665.4" y1="406.4" x2="1746.2" y2="341.2"/>
<line x1="1848.4" y1="325.4" x2="1782" y2="384.1"/>
</g>
<ellipse cx="1669.8" cy="282" rx="18.9" ry="6.8" transform="rotate(90 1669.8 282)" fill="none" stroke="#26477B" stroke-width="2.6"/>
<g fill="#FF0000" stroke="none"><polygon points="1667.67,271.61 1667.67,286.8 1671.93,286.8 1671.93,271.61"/><polygon points="1669.8,296.36 1664.93,285.97 1669.8,286.8 1674.67,285.97"/><circle cx="1669.8" cy="271.61" r="3.81"/></g>
<ellipse cx="1746" cy="287.9" rx="24.9" ry="9.2" transform="rotate(90 1746 287.9)" fill="none" stroke="#26477B" stroke-width="2.6"/>
<g fill="#FF0000" stroke="none"><polygon points="1743.87,274.2 1743.87,295.78 1748.13,295.78 1748.13,274.2"/><polygon points="1746,306.82 1741.13,294.82 1746,295.78 1750.87,294.82"/><circle cx="1746" cy="274.2" r="4.26"/></g>
<ellipse cx="1790.6" cy="287.3" rx="24.9" ry="9.2" transform="rotate(90 1790.6 287.3)" fill="none" stroke="#26477B" stroke-width="2.6"/>
<g fill="#FF0000" stroke="none"><polygon points="1788.47,273.61 1788.47,295.18 1792.73,295.18 1792.73,273.61"/><polygon points="1790.6,306.22 1785.73,294.22 1790.6,295.18 1795.47,294.22"/><circle cx="1790.6" cy="273.61" r="4.26"/></g>
<ellipse cx="1860.9" cy="295.1" rx="24.9" ry="9.2" transform="rotate(90 1860.9 295.1)" fill="none" stroke="#26477B" stroke-width="2.6"/>
<g fill="#FF0000" stroke="none"><polygon points="1858.77,281.41 1858.77,302.98 1863.03,302.98 1863.03,281.41"/><polygon points="1860.9,314.02 1856.03,302.02 1860.9,302.98 1865.77,302.02"/><circle cx="1860.9" cy="281.41" r="4.26"/></g>
<ellipse cx="1669.8" cy="335.4" rx="24.9" ry="9.2" transform="rotate(90 1669.8 335.4)" fill="none" stroke="#26477B" stroke-width="2.6"/>
<g fill="#FF0000" stroke="none"><polygon points="1667.67,321.7 1667.67,343.28 1671.93,343.28 1671.93,321.7"/><polygon points="1669.8,354.32 1664.93,342.32 1669.8,343.28 1674.67,342.32"/><circle cx="1669.8" cy="321.7" r="4.26"/></g>
<ellipse cx="1696.7" cy="341.5" rx="24.9" ry="9.2" transform="rotate(90 1696.7 341.5)" fill="none" stroke="#26477B" stroke-width="2.6"/>
<g fill="#FF0000" stroke="none"><polygon points="1694.57,327.81 1694.57,349.38 1698.83,349.38 1698.83,327.81"/><polygon points="1696.7,360.42 1691.83,348.42 1696.7,349.38 1701.57,348.42"/><circle cx="1696.7" cy="327.81" r="4.26"/></g>
<ellipse cx="1743.4" cy="377.8" rx="24.9" ry="9.2" transform="rotate(90 1743.4 377.8)" fill="none" stroke="#26477B" stroke-width="2.6"/>
<g fill="#FF0000" stroke="none"><polygon points="1741.27,364.11 1741.27,385.68 1745.53,385.68 1745.53,364.11"/><polygon points="1743.4,396.72 1738.53,384.72 1743.4,385.68 1748.27,384.72"/><circle cx="1743.4" cy="364.11" r="4.26"/></g>
<ellipse cx="1781.7" cy="353.1" rx="22.5" ry="8.6" transform="rotate(90 1781.7 353.1)" fill="none" stroke="#26477B" stroke-width="2.6"/>
<g fill="#FF0000" stroke="none"><polygon points="1779.57,340.73 1779.57,359.16 1783.83,359.16 1783.83,340.73"/><polygon points="1781.7,370.2 1776.83,358.2 1781.7,359.16 1786.57,358.2"/><circle cx="1781.7" cy="340.73" r="4.26"/></g>
<ellipse cx="1850.7" cy="377.2" rx="24.9" ry="9.2" transform="rotate(90 1850.7 377.2)" fill="none" stroke="#26477B" stroke-width="2.6"/>
<g fill="#FF0000" stroke="none"><polygon points="1848.57,363.5 1848.57,385.08 1852.83,385.08 1852.83,363.5"/><polygon points="1850.7,396.12 1845.83,384.12 1850.7,385.08 1855.57,384.12"/><circle cx="1850.7" cy="363.5" r="4.26"/></g>
<g fill="#7030A0" stroke="none"><polygon points="1682.36,274.4 1682.36,293.65 1686.24,293.65 1686.24,274.4"/><polygon points="1684.3,304 1679.74,292.5 1684.3,293.65 1688.86,292.5"/><circle cx="1684.3" cy="274.4" r="3.99"/></g>
<g fill="#7030A0" stroke="none"><polygon points="1723.46,269.1 1723.46,290.95 1727.34,290.95 1727.34,269.1"/><polygon points="1725.4,301.3 1720.84,289.8 1725.4,290.95 1729.96,289.8"/><circle cx="1725.4" cy="269.1" r="3.99"/></g>
<g fill="#7030A0" stroke="none"><polygon points="1771.16,285.2 1771.16,307.85 1775.04,307.85 1775.04,285.2"/><polygon points="1773.1,318.2 1768.54,306.7 1773.1,307.85 1777.66,306.7"/><circle cx="1773.1" cy="285.2" r="3.99"/></g>
<g fill="#7030A0" stroke="none"><polygon points="1838.26,288.7 1838.26,311.05 1842.14,311.05 1842.14,288.7"/><polygon points="1840.2,321.4 1835.64,309.9 1840.2,311.05 1844.76,309.9"/><circle cx="1840.2" cy="288.7" r="3.99"/></g>
<g fill="#7030A0" stroke="none"><polygon points="1665.76,364.4 1665.76,382.15 1669.64,382.15 1669.64,364.4"/><polygon points="1667.7,392.5 1663.14,381 1667.7,382.15 1672.26,381"/><circle cx="1667.7" cy="364.4" r="3.99"/></g>
<g fill="#7030A0" stroke="none"><polygon points="1714.56,327.6 1714.56,345.95 1718.44,345.95 1718.44,327.6"/><polygon points="1716.5,356.3 1711.94,344.8 1716.5,345.95 1721.06,344.8"/><circle cx="1716.5" cy="327.6" r="3.99"/></g>
<g fill="#7030A0" stroke="none"><polygon points="1719.36,371.1 1719.36,392.95 1723.24,392.95 1723.24,371.1"/><polygon points="1721.3,403.3 1716.74,391.8 1721.3,392.95 1725.86,391.8"/><circle cx="1721.3" cy="371.1" r="3.99"/></g>
<g fill="#7030A0" stroke="none"><polygon points="1797.76,334.8 1797.76,356.65 1801.64,356.65 1801.64,334.8"/><polygon points="1799.7,367 1795.14,355.5 1799.7,356.65 1804.26,355.5"/><circle cx="1799.7" cy="334.8" r="3.99"/></g>
<g fill="#7030A0" stroke="none"><polygon points="1826.26,367 1826.26,390.25 1830.14,390.25 1830.14,367"/><polygon points="1828.2,400.6 1823.64,389.1 1828.2,390.25 1832.76,389.1"/><circle cx="1828.2" cy="367" r="3.99"/></g>
<g fill="none" stroke="#4472C4" stroke-width="2.7">
<polyline points="1763.9,252.3 1763.9,206.6 1947,206.6 1947,275.1"/>
<line x1="1921.5" y1="275.1" x2="1973" y2="275.1"/>
<polyline points="1947,331 1947,417.6 1897.8,417.6"/>
</g>
<circle cx="1977.3" cy="273.8" r="4.3" fill="#fff" stroke="#2E75B6" stroke-width="2.1"/>
<rect x="1979.2" y="257.4" width="9.2" height="3.2" fill="#4A7EC3"/>
<line x1="1981.8" y1="294" x2="1946.6" y2="331.4" stroke="#C00000" stroke-width="2.6"/>
<circle cx="1984.5" cy="290.2" r="4.5" fill="#fff" stroke="#C00000" stroke-width="2.1"/>
<path d="M1984.6,304.2h9M1989.1,299.7v9" stroke="#C00000" stroke-width="2" fill="none"/>
<polygon points="1174,341.3 1273,341.3 1273,333 1290.8,350.5 1273,368.2 1273,359.8 1174,359.8" fill="url(#gAging)"/>
<text x="1222.8" y="328" font-size="30.4" fill="#7030A0" text-anchor="middle" >Aging</text>
<polygon points="1521,338.3 1622.6,338.3 1622.6,330 1640.8,347.4 1622.6,365.4 1622.6,356.6 1521,356.6" fill="url(#gAging)"/>
<text x="1559" y="321.4" font-size="29.5" fill="#7030A0" text-anchor="start" font-style="italic" >E</text>
<path d="M1594.7,328V303M1589.2,309.6L1594.7,302.2L1600.2,309.6" fill="none" stroke="#7030A0" stroke-width="1.5"/>
<text x="1541.4" y="395" font-size="31" fill="#FF0000" text-anchor="start" font-style="italic" font-weight="bold" >PEC</text>
<path d="M1611.9,402.2V377.2M1606.4,383.8L1611.9,376.4L1617.4,383.8" fill="none" stroke="#FF0000" stroke-width="1.6"/>
<polygon points="1027.5,548.6 1069,588.6 1048.4,588.6 1048.4,714.8 1027.5,695 1006.8,714.8 1006.8,588.6 986.2,588.6" fill="url(#gUp)"/>
<text x="1185" y="620.2" font-size="30.3" fill="#7030A0" text-anchor="middle" >Recovery</text>
<text x="1184.9" y="656" font-size="30.3" fill="#7030A0" text-anchor="middle" textLength="225" lengthAdjust="spacingAndGlyphs">high <tspan font-style="italic">T</tspan>, long time</text>
<path d="M1067.4,632.6C1059.6,642 1059.6,654 1067.4,663.4" fill="none" stroke="#7030A0" stroke-width="1.9"/>
<path d="M1301.6,632.6C1309.4,642 1309.4,654 1301.6,663.4" fill="none" stroke="#7030A0" stroke-width="1.9"/>
<polygon points="1749.3,554 1770.1,573.4 1791.2,554 1791.2,673.7 1811.8,673.7 1770.1,715.4 1728.8,673.7 1749.3,673.7" fill="url(#gDown)"/>
<text x="1886.3" y="600.6" font-size="30.2" fill="#7030A0" text-anchor="middle" >Refreshing</text>
<text x="1886.6" y="638.2" font-size="30.3" fill="#000" text-anchor="middle">(high <tspan font-style="italic">T</tspan>)</text>
<text x="1846.4" y="674.6" font-size="30.6" fill="#FF0000" text-anchor="start" font-style="italic" font-weight="bold" >NEC</text>
<path d="M1918.5,680.8V658M1913.2,664.6L1918.5,657.4L1923.8,664.6" fill="none" stroke="#FF0000" stroke-width="1.6"/>
<rect x="972.4" y="829.1" width="215.8" height="150.2" fill="#FEF1E2"/>
<rect x="981.9" y="824.1" width="196.8" height="5.2" fill="#FFD966"/>
<rect x="947.4" y="979.1" width="267" height="22" fill="#DE7F7F"/>
<rect x="924" y="1000.9" width="313.2" height="60.2" fill="#BEBCBB"/>
<g stroke="#4472C4" stroke-width="2.5" fill="none">
<line x1="994.8" y1="830.6" x2="1116.2" y2="978.6"/>
<line x1="972.4" y1="873.1" x2="1043" y2="890"/>
<line x1="1188.2" y1="830.1" x2="1095.6" y2="899.4"/>
<line x1="1053" y1="901.35" x2="1188.2" y2="895.6"/>
<line x1="981.4" y1="978.5" x2="1062.2" y2="913.3"/>
<line x1="1164.4" y1="897.5" x2="1098" y2="956.2"/>
</g>
<ellipse cx="995.4" cy="866.9" rx="18.4" ry="7.2" transform="rotate(27 995.4 866.9)" fill="none" stroke="#26477B" stroke-width="2.6"/>
<g fill="#FF0000" stroke="none"><polygon points="985.52,864 998.7,870.71 1000.42,867.33 987.25,860.61"/><polygon points="1007.86,873.25 996.86,872.53 999.56,869.02 1000.81,864.78"/><circle cx="986.38" cy="862.31" r="3.4"/></g>
<ellipse cx="1071.5" cy="872.9" rx="23.9" ry="9.2" transform="rotate(34 1071.5 872.9)" fill="none" stroke="#26477B" stroke-width="2.6"/>
<g fill="#FF0000" stroke="none"><polygon points="1059.54,867.12 1076.34,878.46 1078.47,875.31 1061.66,863.97"/><polygon points="1086.56,883.06 1074.18,879.95 1077.41,876.88 1079.04,872.74"/><circle cx="1060.6" cy="865.55" r="3.8"/></g>
<ellipse cx="1123.7" cy="854.6" rx="24.9" ry="9.2" transform="rotate(-36 1123.7 854.6)" fill="none" stroke="#26477B" stroke-width="2.6"/>
<g fill="#FF0000" stroke="none"><polygon points="1133.66,845.01 1116.2,857.7 1118.44,860.77 1135.9,848.09"/><polygon points="1108.39,865.72 1115.54,855.15 1117.32,859.23 1120.66,862.19"/><circle cx="1134.78" cy="846.55" r="3.8"/></g>
<ellipse cx="1150.3" cy="879.1" rx="24.4" ry="9.2" transform="rotate(-20 1150.3 879.1)" fill="none" stroke="#26477B" stroke-width="2.6"/>
<g fill="#FF0000" stroke="none"><polygon points="1138.34,885.48 1158,878.32 1156.7,874.75 1137.04,881.9"/><polygon points="1167.73,872.76 1157.94,880.95 1157.35,876.53 1154.96,872.77"/><circle cx="1137.69" cy="883.69" r="3.8"/></g>
<ellipse cx="1003.3" cy="899.4" rx="24.4" ry="9.6" transform="rotate(15 1003.3 899.4)" fill="none" stroke="#26477B" stroke-width="2.6"/>
<g fill="#FF0000" stroke="none"><polygon points="1016.75,901.04 996.54,895.62 995.56,899.29 1015.77,904.71"/><polygon points="985.39,894.6 998.1,893.5 996.05,897.46 995.85,901.91"/><circle cx="1016.26" cy="902.87" r="3.8"/></g>
<ellipse cx="1111.8" cy="923.1" rx="21.7" ry="8.8" transform="rotate(-53 1111.8 923.1)" fill="none" stroke="#26477B" stroke-width="2.6"/>
<g fill="#FF0000" stroke="none"><polygon points="1106.13,933.78 1116.63,919.84 1113.6,917.56 1103.1,931.49"/><polygon points="1121.73,909.93 1118.01,922.08 1115.11,918.7 1111.07,916.85"/><circle cx="1104.62" cy="932.63" r="3.8"/></g>
<ellipse cx="997.6" cy="944.6" rx="24.7" ry="9.4" transform="rotate(-52 997.6 944.6)" fill="none" stroke="#26477B" stroke-width="2.6"/>
<g fill="#FF0000" stroke="none"><polygon points="990.73,956.47 1003.86,939.68 1000.86,937.34 987.74,954.14"/><polygon points="1009.16,929.81 1005.2,941.94 1002.36,938.51 998.34,936.59"/><circle cx="989.24" cy="955.31" r="3.8"/></g>
<ellipse cx="1049.9" cy="951.2" rx="24.3" ry="9.4" transform="rotate(-46 1049.9 951.2)" fill="none" stroke="#26477B" stroke-width="2.6"/>
<g fill="#FF0000" stroke="none"><polygon points="1057.82,940.27 1043.37,955.22 1046.11,957.86 1060.55,942.91"/><polygon points="1037.07,964.48 1042.28,952.83 1044.74,956.54 1048.54,958.87"/><circle cx="1059.18" cy="941.59" r="3.8"/></g>
<ellipse cx="1134.7" cy="947.8" rx="24.1" ry="9.2" transform="rotate(-36 1134.7 947.8)" fill="none" stroke="#26477B" stroke-width="2.6"/>
<g fill="#FF0000" stroke="none"><polygon points="1144.31,938.47 1127.7,950.54 1129.93,953.61 1146.54,941.55"/><polygon points="1119.88,958.57 1127.03,947.99 1128.81,952.08 1132.15,955.03"/><circle cx="1145.42" cy="940.01" r="3.8"/></g>
<ellipse cx="1167.4" cy="949.6" rx="24.9" ry="9.4" transform="rotate(90 1167.4 949.6)" fill="none" stroke="#26477B" stroke-width="2.6"/>
<g fill="#FF0000" stroke="none"><polygon points="1165.5,935.9 1165.5,957.48 1169.3,957.48 1169.3,935.9"/><polygon points="1167.4,968.52 1163.05,956.52 1167.4,957.48 1171.75,956.52"/><circle cx="1167.4" cy="935.9" r="3.8"/></g>
<g fill="#7030A0" stroke="none"><polygon points="1036.51,858.69 1056.73,847.65 1055.1,844.67 1034.89,855.71"/><polygon points="1065,841.2 1056.82,850.22 1055.92,846.16 1052.99,843.2"/><circle cx="1035.7" cy="857.2" r="3.5"/></g>
<g fill="#7030A0" stroke="none"><polygon points="1096.81,967.55 1075.72,957.87 1074.3,960.96 1095.39,970.65"/><polygon points="1065.6,955.1 1077.72,956.26 1075.01,959.42 1074.38,963.53"/><circle cx="1096.1" cy="969.1" r="3.5"/></g>
<g fill="none" stroke="#4472C4" stroke-width="2.7">
<polyline points="1038,824.1 1038,779.3 1223.1,779.3 1223.1,847.5"/>
<line x1="1197" y1="847.5" x2="1249.2" y2="847.5"/>
<polyline points="1223.1,905.1 1223.1,990.7 1173.4,990.7"/>
</g>
<rect x="1247.8" y="830.6" width="9.2" height="3" fill="#4A7EC3"/>
<line x1="1258.2" y1="865.5" x2="1223.1" y2="905.5" stroke="#C00000" stroke-width="2.6"/>
<path d="M1260.2,877.5h9M1264.7,873v9" stroke="#C00000" stroke-width="1.8" fill="none"/>
<rect x="1680" y="829.2" width="215.8" height="150.2" fill="#FEF1E2"/>
<rect x="1689.5" y="824.2" width="196.8" height="5.2" fill="#FFD966"/>
<rect x="1655" y="979.2" width="267" height="22" fill="#DE7F7F"/>
<rect x="1631.6" y="1001" width="313.2" height="60.2" fill="#BEBCBB"/>
<g stroke="#4472C4" stroke-width="2.5" fill="none">
<line x1="1702.4" y1="830.7" x2="1823.8" y2="978.7"/>
<line x1="1680" y1="873.2" x2="1750.6" y2="890.1"/>
<line x1="1895.8" y1="830.2" x2="1803.2" y2="899.5"/>
<line x1="1760.6" y1="901.45" x2="1895.8" y2="895.7"/>
<line x1="1689" y1="978.6" x2="1769.8" y2="913.4"/>
<line x1="1872" y1="897.6" x2="1805.6" y2="956.3"/>
</g>
<ellipse cx="1703" cy="867" rx="18.4" ry="7.2" transform="rotate(27 1703 867)" fill="none" stroke="#26477B" stroke-width="2.6"/>
<g fill="#FF0000" stroke="none"><polygon points="1693.12,864.1 1706.3,870.81 1708.02,867.43 1694.85,860.71"/><polygon points="1715.46,873.35 1704.46,872.63 1707.16,869.12 1708.41,864.88"/><circle cx="1693.98" cy="862.41" r="3.4"/></g>
<ellipse cx="1779.1" cy="873" rx="23.9" ry="9.2" transform="rotate(34 1779.1 873)" fill="none" stroke="#26477B" stroke-width="2.6"/>
<g fill="#FF0000" stroke="none"><polygon points="1767.14,867.22 1783.94,878.56 1786.07,875.41 1769.26,864.07"/><polygon points="1794.16,883.16 1781.78,880.05 1785.01,876.98 1786.64,872.84"/><circle cx="1768.2" cy="865.65" r="3.8"/></g>
<ellipse cx="1831.3" cy="854.7" rx="24.9" ry="9.2" transform="rotate(-36 1831.3 854.7)" fill="none" stroke="#26477B" stroke-width="2.6"/>
<g fill="#FF0000" stroke="none"><polygon points="1841.26,845.11 1823.8,857.8 1826.04,860.87 1843.5,848.19"/><polygon points="1815.99,865.82 1823.14,855.25 1824.92,859.33 1828.26,862.29"/><circle cx="1842.38" cy="846.65" r="3.8"/></g>
<ellipse cx="1857.9" cy="879.2" rx="24.4" ry="9.2" transform="rotate(-20 1857.9 879.2)" fill="none" stroke="#26477B" stroke-width="2.6"/>
<g fill="#FF0000" stroke="none"><polygon points="1845.94,885.58 1865.6,878.42 1864.3,874.85 1844.64,882"/><polygon points="1875.33,872.86 1865.54,881.05 1864.95,876.63 1862.56,872.87"/><circle cx="1845.29" cy="883.79" r="3.8"/></g>
<ellipse cx="1710.9" cy="899.5" rx="24.4" ry="9.6" transform="rotate(15 1710.9 899.5)" fill="none" stroke="#26477B" stroke-width="2.6"/>
<g fill="#FF0000" stroke="none"><polygon points="1724.35,901.14 1704.14,895.72 1703.16,899.39 1723.37,904.81"/><polygon points="1692.99,894.7 1705.7,893.6 1703.65,897.56 1703.45,902.01"/><circle cx="1723.86" cy="902.97" r="3.8"/></g>
<ellipse cx="1819.4" cy="923.2" rx="21.7" ry="8.8" transform="rotate(-53 1819.4 923.2)" fill="none" stroke="#26477B" stroke-width="2.6"/>
<g fill="#FF0000" stroke="none"><polygon points="1813.73,933.88 1824.23,919.94 1821.2,917.66 1810.7,931.59"/><polygon points="1829.33,910.03 1825.61,922.18 1822.71,918.8 1818.67,916.95"/><circle cx="1812.22" cy="932.73" r="3.8"/></g>
<ellipse cx="1705.2" cy="944.7" rx="24.7" ry="9.4" transform="rotate(-52 1705.2 944.7)" fill="none" stroke="#26477B" stroke-width="2.6"/>
<g fill="#FF0000" stroke="none"><polygon points="1698.33,956.57 1711.46,939.78 1708.46,937.44 1695.34,954.24"/><polygon points="1716.76,929.91 1712.8,942.04 1709.96,938.61 1705.94,936.69"/><circle cx="1696.84" cy="955.41" r="3.8"/></g>
<ellipse cx="1757.5" cy="951.3" rx="24.3" ry="9.4" transform="rotate(-46 1757.5 951.3)" fill="none" stroke="#26477B" stroke-width="2.6"/>
<g fill="#FF0000" stroke="none"><polygon points="1765.42,940.37 1750.97,955.32 1753.71,957.96 1768.15,943.01"/><polygon points="1744.67,964.58 1749.88,952.93 1752.34,956.64 1756.14,958.97"/><circle cx="1766.78" cy="941.69" r="3.8"/></g>
<ellipse cx="1842.3" cy="947.9" rx="24.1" ry="9.2" transform="rotate(-36 1842.3 947.9)" fill="none" stroke="#26477B" stroke-width="2.6"/>
<g fill="#FF0000" stroke="none"><polygon points="1851.91,938.57 1835.3,950.64 1837.53,953.71 1854.14,941.65"/><polygon points="1827.48,958.67 1834.63,948.09 1836.41,952.18 1839.75,955.13"/><circle cx="1853.02" cy="940.11" r="3.8"/></g>
<ellipse cx="1875" cy="949.7" rx="24.9" ry="9.4" transform="rotate(90 1875 949.7)" fill="none" stroke="#26477B" stroke-width="2.6"/>
<g fill="#FF0000" stroke="none"><polygon points="1873.1,936 1873.1,957.58 1876.9,957.58 1876.9,936"/><polygon points="1875,968.62 1870.65,956.62 1875,957.58 1879.35,956.62"/><circle cx="1875" cy="936" r="3.8"/></g>
<ellipse cx="1793.1" cy="843.7" rx="17.9" ry="7.8" transform="rotate(54 1793.1 843.7)" fill="none" stroke="#26477B" stroke-width="2.6"/>
<g fill="#FF0000" stroke="none"><polygon points="1785.78,836.85 1794.23,848.49 1797.31,846.26 1788.85,834.62"/><polygon points="1801.1,854.71 1791.79,849.3 1795.77,847.38 1798.83,844.18"/><circle cx="1787.31" cy="835.74" r="3.4"/></g>
<ellipse cx="1730.2" cy="966.2" rx="13.5" ry="8.2" transform="rotate(50 1730.2 966.2)" fill="none" stroke="#26477B" stroke-width="2.6"/>
<g fill="#FF0000" stroke="none"><polygon points="1724.98,962.94 1730.47,969.48 1733.38,967.04 1727.9,960.5"/><polygon points="1735.38,972.37 1728.29,970.7 1731.93,968.26 1734.96,965.1"/><circle cx="1726.44" cy="961.72" r="3.4"/></g>
<g fill="#7030A0" stroke="none"><polygon points="1712.15,853.55 1697.25,837.28 1694.74,839.58 1709.65,855.85"/><polygon points="1689,830.8 1699.72,836.58 1695.99,838.43 1693.82,841.98"/><circle cx="1710.9" cy="854.7" r="3.5"/></g>
<g fill="#7030A0" stroke="none"><polygon points="1744.55,859.17 1763.47,848.32 1761.78,845.37 1742.85,856.23"/><polygon points="1771.6,841.7 1763.61,850.89 1762.62,846.85 1759.63,843.95"/><circle cx="1743.7" cy="857.7" r="3.5"/></g>
<g fill="#7030A0" stroke="none"><polygon points="1887.41,846.85 1889.48,869.84 1892.86,869.54 1890.79,846.55"/><polygon points="1892.1,880 1887.08,868.91 1891.17,869.69 1895.05,868.19"/><circle cx="1889.1" cy="846.7" r="3.5"/></g>
<g fill="#7030A0" stroke="none"><polygon points="1743.63,899.19 1739.63,920.51 1742.98,921.14 1746.97,899.81"/><polygon points="1739.4,931 1737.59,918.96 1741.31,920.83 1745.45,920.43"/><circle cx="1745.3" cy="899.5" r="3.5"/></g>
<g fill="#7030A0" stroke="none"><polygon points="1809.67,909.82 1787.62,912.89 1788.09,916.26 1810.13,913.18"/><polygon points="1777.6,916 1788.44,910.45 1787.85,914.57 1789.54,918.37"/><circle cx="1809.9" cy="911.5" r="3.5"/></g>
<g fill="#7030A0" stroke="none"><polygon points="1803.8,967.65 1783.33,958.41 1781.93,961.51 1802.4,970.75"/><polygon points="1773.2,955.7 1785.33,956.79 1782.63,959.96 1782.04,964.08"/><circle cx="1803.1" cy="969.2" r="3.5"/></g>
<g fill="none" stroke="#4472C4" stroke-width="2.7">
<polyline points="1745.6,824.2 1745.6,779.4 1930.7,779.4 1930.7,847.6"/>
<line x1="1904.6" y1="847.6" x2="1956.8" y2="847.6"/>
<polyline points="1930.7,905.2 1930.7,990.8 1881,990.8"/>
</g>
<rect x="1955.4" y="830.7" width="9.2" height="3" fill="#4A7EC3"/>
<line x1="1965.8" y1="865.6" x2="1930.7" y2="905.6" stroke="#C00000" stroke-width="2.6"/>
<path d="M1967.8,877.6h9M1972.3,873.1v9" stroke="#C00000" stroke-width="1.8" fill="none"/>
<polygon points="1279.2,913.2 1316.6,876 1316.6,894.8 1548.2,894.8 1548.2,932.6 1316.6,932.6 1316.6,951" fill="url(#gLeft)"/>
<text x="1426" y="868.2" font-size="30.4" fill="#7030A0" text-anchor="middle" >Adding</text>
<text x="1426" y="978.6" font-size="30.3" fill="#7030A0" text-anchor="middle" >Times</text>
</svg></body></html>
